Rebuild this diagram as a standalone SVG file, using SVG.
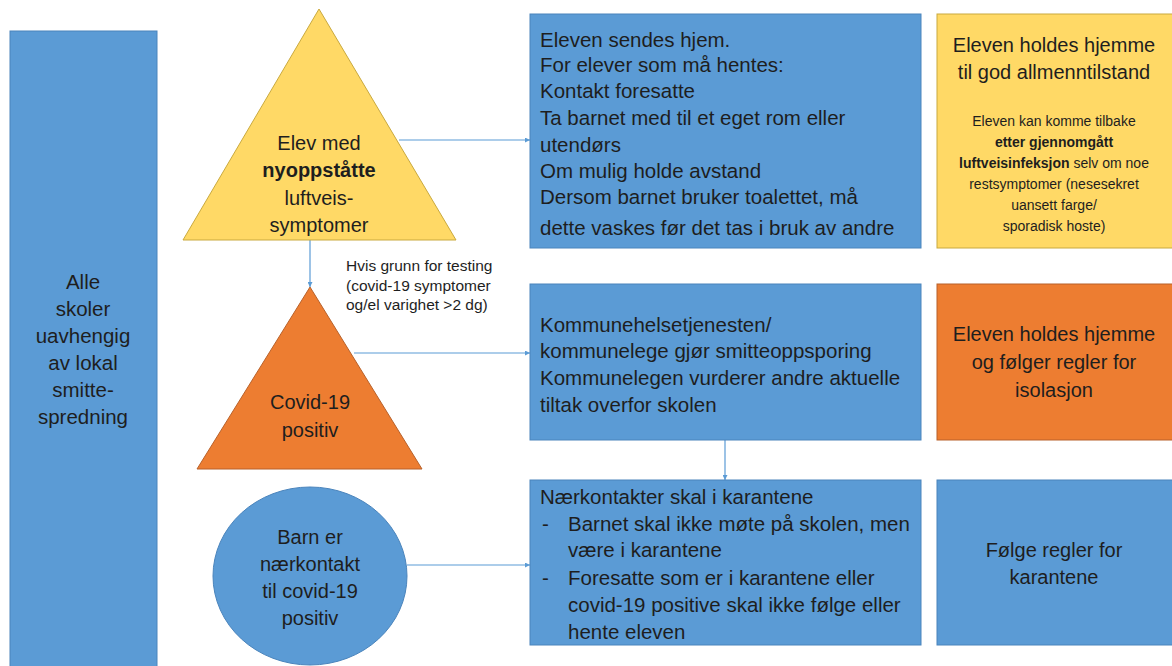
<svg xmlns="http://www.w3.org/2000/svg" width="1172" height="666" viewBox="0 0 1172 666">
<style>
text{font-family:"Liberation Sans",Arial,sans-serif;fill:#1e1e1e;font-size:20px}
.c{text-anchor:middle}
.t{font-size:20.5px}
.s{font-size:14px}
.m{font-size:15.5px}
.b{font-weight:bold}
.blue{fill:#5B9BD5;stroke:#4A84BC;stroke-width:1}
.yel{fill:#FFD966;stroke:#C9A93E;stroke-width:1}
.org{fill:#ED7D31;stroke:#B8612A;stroke-width:1}
.con{stroke:#5B9BD5;stroke-width:1.2;fill:none}
</style>
<defs>
<marker id="ah" viewBox="0 0 6 6" refX="6" refY="3" markerWidth="5" markerHeight="5" orient="auto" markerUnits="userSpaceOnUse">
<path d="M0,0 L6,3 L0,6 z" fill="#5B9BD5"/>
</marker>
</defs>
<rect width="1172" height="666" fill="#ffffff"/>

<g id="connectors">
<line class="con" x1="399" y1="140" x2="530" y2="140" marker-end="url(#ah)"/>
<line class="con" x1="310" y1="240" x2="310" y2="287" marker-end="url(#ah)"/>
<line class="con" x1="354" y1="353" x2="530" y2="353" marker-end="url(#ah)"/>
<line class="con" x1="407" y1="565" x2="530" y2="565" marker-end="url(#ah)"/>
<line class="con" x1="725" y1="440" x2="725" y2="480" marker-end="url(#ah)"/>
</g>

<g id="alle-skoler">
<rect class="blue" x="10" y="31" width="147" height="640"/>
<text class="c t" x="83" y="289">Alle</text>
<text class="c t" x="83" y="316">skoler</text>
<text class="c t" x="83" y="343">uavhengig</text>
<text class="c t" x="83" y="370">av lokal</text>
<text class="c t" x="83" y="397">smitte-</text>
<text class="c t" x="83" y="424">spredning</text>
</g>

<g id="elev-symptomer">
<polygon class="yel" points="319,9 456,240 183,240"/>
<text class="c" x="319" y="150">Elev med</text>
<text class="c b" x="319" y="177">nyoppståtte</text>
<text class="c" x="319" y="205">luftveis-</text>
<text class="c" x="319" y="232">symptomer</text>
</g>

<g id="testing-label">
<text class="m" x="346" y="271">Hvis grunn for testing</text>
<text class="m" x="346" y="291">(covid-19 symptomer</text>
<text class="m" x="346" y="310">og/el varighet &gt;2 dg)</text>
</g>

<g id="covid-positiv">
<polygon class="org" points="310,287 422,469 197,469"/>
<text class="c" x="310" y="409">Covid-19</text>
<text class="c" x="310" y="437">positiv</text>
</g>

<g id="naerkontakt">
<ellipse class="blue" cx="310" cy="576" rx="97" ry="89"/>
<text class="c" x="310" y="544">Barn er</text>
<text class="c" x="310" y="571">nærkontakt</text>
<text class="c" x="310" y="598">til covid-19</text>
<text class="c" x="310" y="625">positiv</text>
</g>

<g id="sendes-hjem">
<rect class="blue" x="530" y="14" width="391" height="234"/>
<text class="t" x="540" y="47">Eleven sendes hjem.</text>
<text class="t" x="540" y="72">For elever som må hentes:</text>
<text class="t" x="540" y="98">Kontakt foresatte</text>
<text class="t" x="540" y="125">Ta barnet med til et eget rom eller</text>
<text class="t" x="540" y="152">utendørs</text>
<text class="t" x="540" y="178">Om mulig holde avstand</text>
<text class="t" x="540" y="204">Dersom barnet bruker toalettet, må</text>
<text class="t" x="540" y="235">dette vaskes før det tas i bruk av andre</text>
</g>

<g id="holdes-hjemme-god">
<rect class="yel" x="937" y="14" width="240" height="234"/>
<text class="c" x="1054" y="52">Eleven holdes hjemme</text>
<text class="c" x="1054" y="79">til god allmenntilstand</text>
<text class="c s" x="1054" y="126">Eleven kan komme tilbake</text>
<text class="c s b" x="1054" y="147">etter gjennomgått</text>
<text class="c s" x="1054" y="168"><tspan class="b">luftveisinfeksjon</tspan> selv om noe</text>
<text class="c s" x="1054" y="189">restsymptomer (nesesekret</text>
<text class="c s" x="1054" y="210">uansett farge/</text>
<text class="c s" x="1054" y="231">sporadisk hoste)</text>
</g>

<g id="smitteoppsporing">
<rect class="blue" x="530" y="284" width="391" height="156"/>
<text class="t" x="540" y="332">Kommunehelsetjenesten/</text>
<text class="t" x="540" y="358">kommunelege gjør smitteoppsporing</text>
<text class="t" x="540" y="385">Kommunelegen vurderer andre aktuelle</text>
<text class="t" x="540" y="412">tiltak overfor skolen</text>
</g>

<g id="isolasjon">
<rect class="org" x="937" y="284" width="240" height="156"/>
<text class="c" x="1054" y="341">Eleven holdes hjemme</text>
<text class="c" x="1054" y="369">og følger regler for</text>
<text class="c" x="1054" y="397">isolasjon</text>
</g>

<g id="karantene">
<rect class="blue" x="530" y="480" width="391" height="165"/>
<text class="t" x="540" y="504">Nærkontakter skal i karantene</text>
<text class="t" x="542" y="531">-</text>
<text class="t" x="568" y="531">Barnet skal ikke møte på skolen, men</text>
<text class="t" x="568" y="557">være i karantene</text>
<text class="t" x="542" y="585">-</text>
<text class="t" x="568" y="585">Foresatte som er i karantene eller</text>
<text class="t" x="568" y="612">covid-19 positive skal ikke følge eller</text>
<text class="t" x="568" y="639">hente eleven</text>
</g>

<g id="folge-karantene">
<rect class="blue" x="937" y="480" width="240" height="165"/>
<text class="c" x="1054" y="557">Følge regler for</text>
<text class="c" x="1054" y="584">karantene</text>
</g>
</svg>
